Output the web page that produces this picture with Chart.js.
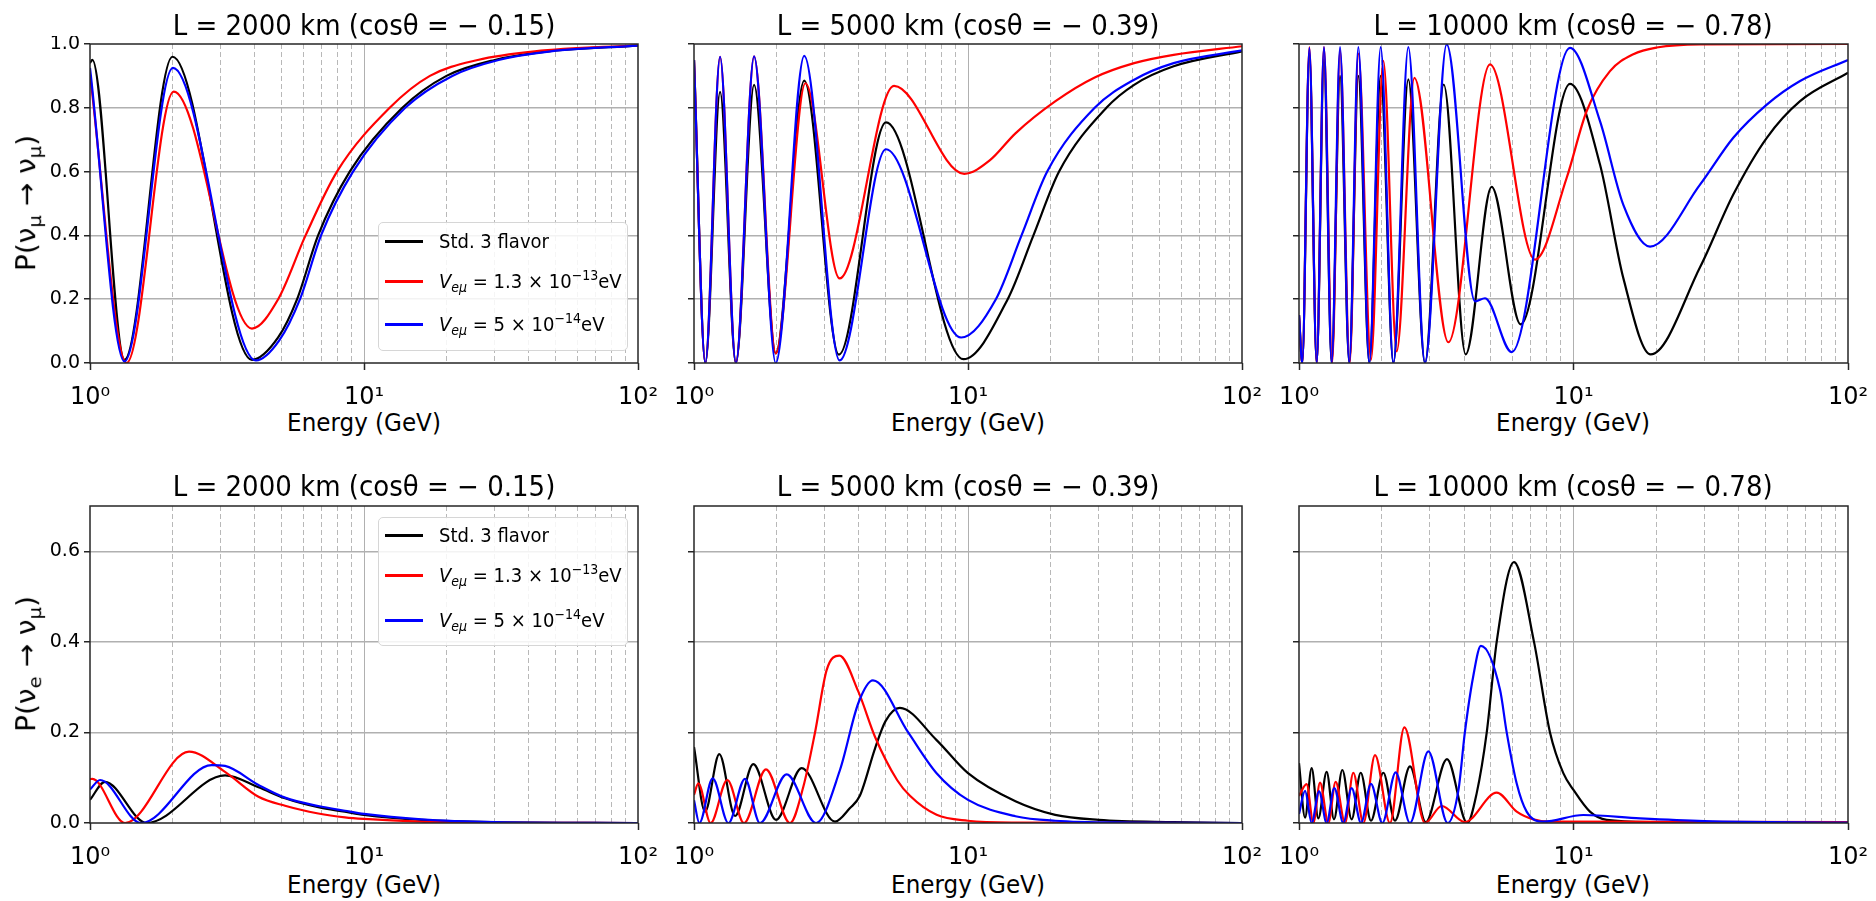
<!DOCTYPE html>
<html>
<head>
<title>Oscillation probabilities</title>
<script src="https://cdn.jsdelivr.net/npm/chart.js"></script>
<style>
    body { margin: 0; width: 1876px; height: 901px; position: relative; overflow: hidden; background: #fff; font-family: "DejaVu Sans", sans-serif; color: #000; }
    canvas { position: absolute; }
    .title { position: absolute; font-size: 28px; line-height: 1; white-space: nowrap; transform: translate(-50%, -50%) scaleX(0.93); }
    .xlabel { position: absolute; font-size: 24px; line-height: 1; white-space: nowrap; transform: translate(-50%, -50%) scaleX(0.96); }
    .ylabel { position: absolute; font-size: 28px; line-height: 1; white-space: nowrap; transform: translate(-50%, -50%) rotate(-90deg) scaleY(0.93); }
    sub { font-size: 0.7em; vertical-align: -0.3em; line-height: 0; }
    sup { font-size: 0.7em; vertical-align: 0.55em; line-height: 0; }
    .legend { position: absolute; width: 250px; height: 129px; box-sizing: border-box; border: 1px solid #d6d6d6; border-radius: 5px; background: rgba(255,255,255,0.85); }
    .row { position: absolute; left: 0; height: 0; }
    .swatch { position: absolute; left: 6px; top: -1.5px; width: 38px; height: 3px; }
    .lab { position: absolute; left: 60px; top: -13px; font-size: 20px; line-height: 26px; white-space: nowrap; transform: scaleX(0.9); transform-origin: left center; }
</style>
</head>
<body>
    <canvas id="c1"></canvas>
    <canvas id="c2"></canvas>
    <canvas id="c3"></canvas>
    <canvas id="c4"></canvas>
    <canvas id="c5"></canvas>
    <canvas id="c6"></canvas>

    <div class="title" style="left:364px;top:26px">L = 2000 km (cosθ = − 0.15)</div>
    <div class="title" style="left:968px;top:26px">L = 5000 km (cosθ = − 0.39)</div>
    <div class="title" style="left:1573px;top:26px">L = 10000 km (cosθ = − 0.78)</div>
    <div class="title" style="left:364px;top:487px">L = 2000 km (cosθ = − 0.15)</div>
    <div class="title" style="left:968px;top:487px">L = 5000 km (cosθ = − 0.39)</div>
    <div class="title" style="left:1573px;top:487px">L = 10000 km (cosθ = − 0.78)</div>

    <div class="xlabel" style="left:364px;top:423px">Energy (GeV)</div>
    <div class="xlabel" style="left:968px;top:423px">Energy (GeV)</div>
    <div class="xlabel" style="left:1573px;top:423px">Energy (GeV)</div>
    <div class="xlabel" style="left:364px;top:885px">Energy (GeV)</div>
    <div class="xlabel" style="left:968px;top:885px">Energy (GeV)</div>
    <div class="xlabel" style="left:1573px;top:885px">Energy (GeV)</div>

    <div class="ylabel" style="left:27px;top:203px">P(ν<sub>μ</sub> → ν<sub>μ</sub>)</div>
    <div class="ylabel" style="left:27px;top:664px">P(ν<sub>e</sub> → ν<sub>μ</sub>)</div>

    <div class="legend" style="left:378px;top:222px">
        <div class="row" style="top:18px"><span class="swatch" style="background:#000"></span><span class="lab">Std. 3 flavor</span></div>
        <div class="row" style="top:58px"><span class="swatch" style="background:#ff0000"></span><span class="lab"><i>V</i><sub><i>eμ</i></sub> = 1.3 × 10<sup>−13</sup>eV</span></div>
        <div class="row" style="top:101px"><span class="swatch" style="background:#0000ff"></span><span class="lab"><i>V</i><sub><i>eμ</i></sub> = 5 × 10<sup>−14</sup>eV</span></div>
    </div>
    <div class="legend" style="left:378px;top:517px">
        <div class="row" style="top:17px"><span class="swatch" style="background:#000"></span><span class="lab">Std. 3 flavor</span></div>
        <div class="row" style="top:57px"><span class="swatch" style="background:#ff0000"></span><span class="lab"><i>V</i><sub><i>eμ</i></sub> = 1.3 × 10<sup>−13</sup>eV</span></div>
        <div class="row" style="top:102px"><span class="swatch" style="background:#0000ff"></span><span class="lab"><i>V</i><sub><i>eμ</i></sub> = 5 × 10<sup>−14</sup>eV</span></div>
    </div>

    <script>
        // axis ticks
        const xTicks = [1, 2, 3, 4, 5, 6, 7, 8, 9, 10, 20, 30, 40, 50, 60, 70, 80, 90, 100];
        const xMajor = [1, 10, 100];
        const xMajorLabels = ['10⁰', '10¹', '10²'];
        const yTicksTop = [0, 0.2, 0.4, 0.6, 0.8, 1.0];
        const yTicksBottom = [0, 0.2, 0.4, 0.6];

        // [energy GeV, probability]
        // P(numu -> numu), L = 2000 km
        const mm2000Std = [[1,0.94],[1.02,0.95],[1.336,0.01],[2.0,0.96],[3.9,0.01],[4.86,0.08],[5.7,0.2],[6.8,0.4],[8.87,0.6],[13.8,0.8],[20,0.9],[30,0.95],[47,0.977],[100,0.995]];
        const mm2000Hi  = [[1,0.905],[1.36,0.0],[2.02,0.851],[3.9,0.108],[4.86,0.2],[6.12,0.4],[7.97,0.6],[12.41,0.8],[17.4,0.9],[26,0.95],[42,0.977],[100,0.996]];
        const mm2000Lo  = [[1,0.925],[1.336,0.005],[2.007,0.925],[4.03,0.008],[4.9,0.07],[5.84,0.2],[6.97,0.4],[9.12,0.6],[14.14,0.8],[21,0.9],[31,0.95],[48,0.977],[100,0.995]];

        // P(numu -> numu), L = 5000 km
        const mm5000Std = [[1,0.95],[1.1,0.0],[1.245,0.85],[1.422,0.0],[1.657,0.872],[1.988,0.03],[2.525,0.885],[3.38,0.026],[5.02,0.754],[9.63,0.012],[13.96,0.2],[17.33,0.4],[21.5,0.6],[32,0.8],[40.4,0.872],[56.3,0.93],[100,0.977]];
        const mm5000Hi  = [[1,0.95],[1.1,0.0],[1.245,0.96],[1.422,0.0],[1.657,0.961],[1.988,0.03],[2.55,0.877],[3.40,0.265],[5.37,0.869],[9.69,0.593],[12.0,0.635],[14.9,0.72],[20.8,0.82],[29,0.895],[40.4,0.94],[56.3,0.966],[100,0.993]];
        const mm5000Lo  = [[1,0.95],[1.1,0.0],[1.245,0.96],[1.422,0.0],[1.657,0.961],[1.988,0.0],[2.525,0.963],[3.40,0.008],[5.02,0.67],[9.44,0.08],[12.64,0.2],[15.68,0.4],[19.46,0.6],[29,0.8],[40.4,0.888],[56.3,0.94],[100,0.98]];

        // P(numu -> numu), L = 10000 km
        const mm10kStd = [[1,0.15],[1.028,0.0],[1.091,0.97],[1.16,0.0],[1.233,0.95],[1.315,0.0],[1.411,0.9],[1.525,0.0],[1.645,0.9],[1.804,0.0],[1.984,0.9],[2.207,0.0],[2.502,0.889],[2.877,0.0],[3.367,0.873],[4.047,0.027],[5.033,0.552],[6.42,0.121],[9.71,0.875],[12.49,0.622],[15.19,0.266],[19.1,0.027],[28.9,0.3],[38.2,0.528],[50.6,0.706],[66.9,0.821],[100,0.91]];
        const mm10kHi  = [[1,0.15],[1.028,0.0],[1.091,0.99],[1.16,0.0],[1.233,0.99],[1.32,0.0],[1.411,0.98],[1.53,0.0],[1.645,0.97],[1.829,0.01],[2.029,0.947],[2.269,0.036],[2.632,0.894],[3.5,0.065],[4.963,0.936],[7.24,0.324],[9.44,0.58],[11.17,0.79],[13.58,0.915],[16.52,0.968],[20.1,0.989],[28.9,0.999],[100,1.0]];
        const mm10kLo  = [[1,0.15],[1.028,0.0],[1.091,0.988],[1.16,0.0],[1.233,0.99],[1.315,0.0],[1.411,0.99],[1.525,0.0],[1.645,0.99],[1.804,0.0],[1.984,0.99],[2.207,0.0],[2.502,0.99],[2.877,0.0],[3.451,0.999],[4.377,0.193],[4.761,0.203],[5.955,0.034],[9.71,0.988],[12.49,0.758],[15.19,0.496],[19.0,0.365],[28.9,0.559],[38.2,0.706],[50.6,0.81],[66.9,0.884],[100,0.95]];

        // P(nue -> numu), L = 2000 km
        const em2000Std = [[1,0.051],[1.134,0.091],[1.61,0.0],[3.11,0.105],[4.12,0.079],[5.15,0.0545],[6.81,0.0347],[8.52,0.025],[10,0.018],[16.2,0.007],[30,0.002],[100,0.0]];
        const em2000Hi  = [[1,0.097],[1.02,0.0975],[1.342,0.0],[2.298,0.1575],[3.11,0.113],[4.12,0.058],[5.15,0.038],[6.81,0.021],[8.52,0.0125],[10,0.009],[16,0.003],[30,0.0005],[100,0.0]];
        const em2000Lo  = [[1,0.074],[1.088,0.095],[1.535,0.0],[2.78,0.128],[3.11,0.126],[4.12,0.084],[5.15,0.056],[6.81,0.0375],[8.52,0.027],[10,0.02],[16.2,0.008],[30,0.002],[100,0.0]];

        // P(nue -> numu), L = 5000 km
        const em5000Std = [[1,0.168],[1.097,0.025],[1.237,0.152],[1.412,0.0155],[1.646,0.13],[1.992,0.007],[2.471,0.121],[3.27,0.003],[3.71,0.033],[4.03,0.06],[4.58,0.165],[5.0,0.225],[5.64,0.254],[7.68,0.183],[10,0.11],[14.9,0.048],[20.8,0.018],[30,0.007],[56.3,0.002],[100,0.0]];
        const em5000Hi  = [[1,0.062],[1.037,0.0876],[1.15,0.0],[1.323,0.095],[1.522,0.0],[1.831,0.1185],[2.24,0.0],[2.506,0.08],[2.765,0.2],[3.05,0.338],[3.392,0.3695],[3.98,0.29],[4.58,0.19],[5.51,0.095],[6.14,0.06],[7.68,0.018],[10,0.005],[14.9,0.001],[100,0.0]];
        const em5000Lo  = [[1,0.05],[1.046,0.0],[1.17,0.0986],[1.335,0.0],[1.535,0.0976],[1.741,0.0],[2.179,0.1075],[2.788,0.0],[3.41,0.117],[3.98,0.265],[4.5,0.315],[6.05,0.2],[7.68,0.11],[10,0.051],[14.9,0.015],[20.8,0.005],[40,0.001],[100,0.0]];

        // P(nue -> numu), L = 10000 km
        const em10kStd = [[1,0.132],[1.052,0.012],[1.112,0.121],[1.176,0.01],[1.261,0.113],[1.341,0.008],[1.438,0.117],[1.555,0.008],[1.678,0.111],[1.829,0.005],[2.029,0.111],[2.237,0.005],[2.537,0.125],[2.894,0.002],[3.46,0.141],[4.1,0.0],[4.44,0.066],[4.83,0.2],[5.25,0.4],[6.07,0.576],[7.18,0.4],[8.21,0.2],[9.18,0.11],[10,0.073],[11.48,0.025],[13.21,0.007],[20,0.002],[100,0.0]];
        const em10kHi  = [[1,0.06],[1.066,0.086],[1.128,0.0],[1.193,0.089],[1.279,0.0],[1.36,0.091],[1.471,0.0],[1.577,0.111],[1.716,0.0],[1.892,0.15],[2.145,0.0],[2.42,0.211],[2.877,0.0],[3.31,0.0375],[4.02,0.002],[5.25,0.067],[6.21,0.025],[7.14,0.008],[8.21,0.003],[100,0.002]];
        const em10kLo  = [[1,0.02],[1.052,0.071],[1.112,0.0],[1.183,0.07],[1.261,0.0],[1.345,0.077],[1.45,0.0],[1.555,0.077],[1.682,0.0],[1.829,0.0865],[2.012,0.0],[2.25,0.112],[2.537,0.0],[2.96,0.158],[3.48,0.0],[3.81,0.073],[4.02,0.2],[4.31,0.323],[4.6,0.391],[5.4,0.294],[5.71,0.2],[6.21,0.087],[6.75,0.025],[7.76,0.003],[10.86,0.0177],[17.5,0.01],[30,0.004],[100,0.001]];

        const colors = ['#000000', '#ff0000', '#0000ff'];
        const FONT = 'DejaVu Sans';

        // dark frame round the plot area, like matplotlib spines
        const frame = {
            id: 'frame',
            afterDraw(chart) {
                const a = chart.chartArea, ctx = chart.ctx;
                ctx.save();
                ctx.strokeStyle = '#262626';
                ctx.lineWidth = 1.5;
                ctx.strokeRect(a.left, a.top, a.right - a.left, a.bottom - a.top);
                ctx.restore();
            }
        };

        function isMajor(v) {
            return xMajor.some(m => Math.abs(m - v) < 1e-9);
        }

        function makePanel(id, box, series, yMax, yTicks, showY) {
            const canvas = document.getElementById(id);
            canvas.width = box.w + 95;
            canvas.height = box.h + 52;
            canvas.style.left = (box.l - 70) + 'px';
            canvas.style.top = (box.t - 8) + 'px';

            new Chart(canvas, {
                type: 'line',
                data: {
                    datasets: series.map((s, i) => ({
                        data: s.map(p => ({ x: p[0], y: p[1] })),
                        borderColor: colors[i],
                        borderWidth: 2.2,
                        pointRadius: 0,
                        fill: false,
                        cubicInterpolationMode: 'monotone',
                        order: 2 - i
                    }))
                },
                options: {
                    responsive: false,
                    animation: false,
                    devicePixelRatio: 1,
                    layout: { padding: { top: 8, right: 25, left: 0, bottom: 0 } },
                    plugins: { legend: { display: false }, tooltip: { enabled: false } },
                    scales: {
                        x: {
                            type: 'logarithmic',
                            min: 1,
                            max: 100,
                            afterBuildTicks: s => { s.ticks = xTicks.map(v => ({ value: v, major: isMajor(v) })); },
                            afterFit: s => { s.height = 44; s.paddingLeft = 0; s.paddingRight = 0; },
                            ticks: {
                                autoSkip: false,
                                maxRotation: 0,
                                padding: 13,
                                color: '#000',
                                font: { family: FONT, size: 24 },
                                callback: v => {
                                    const k = xMajor.findIndex(m => Math.abs(m - v) < 1e-9);
                                    return k >= 0 ? xMajorLabels[k] : '';
                                }
                            },
                            grid: {
                                color: c => {
                                    const v = c.tick ? c.tick.value : 0;
                                    if (v === 1 || v === 100) return 'rgba(0,0,0,0)';
                                    return isMajor(v) ? '#b0b0b0' : '#b8b8b8';
                                },
                                lineWidth: 1,
                                tickLength: 7,
                                tickWidth: 1.5,
                                tickColor: c => (c.tick && isMajor(c.tick.value)) ? '#262626' : 'rgba(0,0,0,0)'
                            },
                            border: {
                                display: false,
                                dash: c => (c.tick && !isMajor(c.tick.value)) ? [5, 3] : []
                            }
                        },
                        y: {
                            min: 0,
                            max: yMax,
                            afterBuildTicks: s => { s.ticks = yTicks.map(v => ({ value: v })); },
                            afterFit: s => { s.width = 70; s.paddingTop = 0; s.paddingBottom = 0; },
                            ticks: {
                                display: showY,
                                padding: 4,
                                color: '#000',
                                font: { family: FONT, size: 19 },
                                callback: v => v.toFixed(1)
                            },
                            grid: {
                                color: c => {
                                    const v = c.tick ? c.tick.value : 0;
                                    return (v === 0 || Math.abs(v - 1) < 1e-9) ? 'rgba(0,0,0,0)' : '#b0b0b0';
                                },
                                lineWidth: 1.5,
                                tickLength: 6,
                                tickWidth: 1.5,
                                tickColor: '#262626'
                            },
                            border: { display: false }
                        }
                    }
                },
                plugins: [frame]
            });
        }

        const rowTop = { t: 44, h: 319 }, rowBot = { t: 506, h: 317 };
        const cols = [{ l: 90, w: 548 }, { l: 694, w: 548 }, { l: 1299, w: 549 }];

        makePanel('c1', { ...cols[0], ...rowTop }, [mm2000Std, mm2000Hi, mm2000Lo], 1.0, yTicksTop, true);
        makePanel('c2', { ...cols[1], ...rowTop }, [mm5000Std, mm5000Hi, mm5000Lo], 1.0, yTicksTop, false);
        makePanel('c3', { ...cols[2], ...rowTop }, [mm10kStd, mm10kHi, mm10kLo], 1.0, yTicksTop, false);
        makePanel('c4', { ...cols[0], ...rowBot }, [em2000Std, em2000Hi, em2000Lo], 0.7, yTicksBottom, true);
        makePanel('c5', { ...cols[1], ...rowBot }, [em5000Std, em5000Hi, em5000Lo], 0.7, yTicksBottom, false);
        makePanel('c6', { ...cols[2], ...rowBot }, [em10kStd, em10kHi, em10kLo], 0.7, yTicksBottom, false);
    </script>
</body>
</html>
